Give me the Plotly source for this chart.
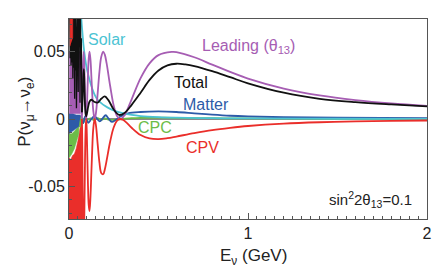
import plotly.graph_objects as go

# ---------------- data ----------------
# Leading (theta13) term
lead_E = [0.0637, 0.066, 0.068, 0.070, 0.0716, 0.0735, 0.075, 0.078, 0.0819, 0.085, 0.088, 0.092, 0.0955, 0.098,
          0.1, 0.105, 0.11, 0.1146, 0.12, 0.125, 0.13, 0.135, 0.143, 0.15, 0.16, 0.17, 0.18, 0.191, 0.2, 0.21,
          0.23, 0.25, 0.27, 0.286, 0.3, 0.32, 0.35, 0.4, 0.45, 0.5, 0.573, 0.6, 0.7, 0.8, 0.9, 1.0, 1.2, 1.4,
          1.6, 1.8, 2.0]
lead_P = [0.05, 0.0385, 0.019, 0.0041, 0.0, 0.005, 0.0144, 0.039, 0.05, 0.0421, 0.0264, 0.0065, 0.0, 0.0028,
          0.0085, 0.0289, 0.0447, 0.05, 0.044, 0.0315, 0.0181, 0.007, 0.0, 0.0039, 0.0188, 0.035, 0.046, 0.05,
          0.0478, 0.0414, 0.0245, 0.0098, 0.0018, 0.0, 0.001, 0.0052, 0.0146, 0.0303, 0.0413, 0.0474, 0.0498,
          0.0497, 0.0458, 0.0403, 0.035, 0.030, 0.0226, 0.0175, 0.0140, 0.0115, 0.0097]

# CP-violating term
cpv_E = [0.0716, 0.073, 0.075, 0.078, 0.0819, 0.085, 0.088, 0.092, 0.0955, 0.098, 0.1, 0.105, 0.11, 0.1146,
         0.12, 0.125, 0.13, 0.135, 0.143, 0.15, 0.16, 0.17, 0.18, 0.191, 0.2, 0.21, 0.23, 0.25, 0.27, 0.286,
         0.3, 0.32, 0.35, 0.4, 0.45, 0.5, 0.55, 0.6, 0.7, 0.8, 0.9, 1.0, 1.2, 1.4, 1.6, 1.8, 2.0]
cpv_P = [0.0, -0.0064, -0.030, -0.0784, -0.0957, -0.0777, -0.047, -0.011, 0.0, -0.0046, -0.0133, -0.0431,
         -0.0636, -0.0683, -0.0574, -0.0395, -0.0218, -0.0081, 0.0, -0.0041, -0.0184, -0.0322, -0.040, -0.041,
         -0.0374, -0.0309, -0.0167, -0.0061, -0.001, 0.0, -0.0005, -0.0025, -0.0065, -0.0119, -0.0144, -0.0149,
         -0.0142, -0.013, -0.0105, -0.0083, -0.0066, -0.0052, -0.0034, -0.0024, -0.0018, -0.0014, -0.0011]

# Total probability
tot_E = [0.072, 0.076, 0.08, 0.083, 0.086, 0.09, 0.095, 0.1, 0.107, 0.115, 0.125, 0.14, 0.16, 0.18, 0.2, 0.22,
         0.25, 0.28, 0.31, 0.35, 0.4, 0.45, 0.5, 0.55, 0.6, 0.65, 0.7, 0.8, 0.9, 1.0, 1.2, 1.4, 1.6, 1.8, 2.0]
tot_P = [0.005, 0.016, 0.032, 0.037, 0.026, 0.009, 0.002, 0.004, 0.009, 0.013, 0.0143, 0.0128, 0.0122, 0.015,
         0.0168, 0.014, 0.007, 0.003, 0.0045, 0.0105, 0.0195, 0.029, 0.036, 0.0398, 0.041, 0.0405, 0.0393,
         0.0355, 0.031, 0.0265, 0.0195, 0.015, 0.0125, 0.0108, 0.0094]

# Total, fast-oscillating low-energy part
totlow_E = [0.004, 0.0065, 0.009, 0.0115, 0.014, 0.0165, 0.019, 0.0215, 0.024, 0.0265, 0.029, 0.0315, 0.034,
            0.0365, 0.039, 0.0415, 0.044, 0.0465, 0.049, 0.0515, 0.054, 0.0565, 0.059, 0.0615, 0.064, 0.0665,
            0.069, 0.072]
totlow_P = [0.09, 0.045, 0.09, 0.04, 0.09, 0.042, 0.09, 0.03, 0.09, 0.038, 0.09, 0.015, 0.09, 0.036, 0.09,
            0.008, 0.09, 0.04, 0.09, 0.02, 0.09, 0.045, 0.085, 0.012, 0.075, 0.04, 0.06, 0.005]

# Solar term
sol_E = [0.066, 0.069, 0.075, 0.08, 0.09, 0.1, 0.115, 0.13, 0.145, 0.16, 0.18, 0.2, 0.23, 0.26, 0.3, 0.35, 0.4,
         0.5, 0.6, 0.8, 1.0, 1.5, 2.0]
sol_P = [0.085, 0.074, 0.064, 0.056, 0.045, 0.037, 0.029, 0.0225, 0.0175, 0.0142, 0.0118, 0.0098, 0.0075,
         0.0058, 0.0043, 0.003, 0.0022, 0.0014, 0.001, 0.0006, 0.0004, 0.0002, 0.0001]

# Matter term
mat_E = [0.07, 0.08, 0.09, 0.1, 0.108, 0.125, 0.142, 0.158, 0.172, 0.188, 0.205, 0.22, 0.24, 0.26, 0.29, 0.33,
         0.4, 0.5, 0.6, 0.7, 0.8, 0.9, 1.0, 1.2, 1.5, 2.0]
mat_P = [0.0, -0.003, 0.002, -0.001, -0.0028, 0.0, 0.0022, 0.0, -0.0018, 0.0005, 0.0028, 0.0005, -0.0022,
         -0.0008, 0.002, 0.0042, 0.0052, 0.0056, 0.0052, 0.0042, 0.0032, 0.0024, 0.0019, 0.0013, 0.001, 0.0007]

# CP-conserving term
cpc_E = [0.06, 0.07, 0.08, 0.09, 0.1, 0.12, 0.14, 0.16, 0.18, 0.2, 0.22, 0.25, 0.3, 0.35, 0.4, 0.5, 0.6, 0.8,
         1.0, 1.5, 2.0]
cpc_P = [-0.006, 0.002, -0.003, 0.001, -0.001, 0.0005, -0.0008, 0.0006, -0.0006, 0.0004, -0.0004, -0.0006, 0.0,
         0.0006, 0.0009, 0.001, 0.0009, 0.0006, 0.0004, 0.0002, 0.0001]

# Envelopes of the unresolved fast oscillations at the lowest energies
red_fill_E = [0.0, 0.0, 0.01, 0.02, 0.03, 0.04, 0.05, 0.058, 0.064, 0.069, 0.0716, 0.074, 0.074]
red_fill_P = [-0.08, -0.029, -0.03, -0.027, -0.026, -0.022, -0.016, -0.008, -0.004, -0.001, 0.0, -0.03, -0.08]
red_top_E = [0.006, 0.006, 0.021, 0.021]
red_top_P = [0.054, 0.08, 0.08, 0.06]
green_fill_E = [0.0, 0.015, 0.03, 0.045, 0.055, 0.055, 0.045, 0.03, 0.015, 0.0]
green_fill_P = [-0.011, -0.011, -0.009, -0.007, -0.005, -0.011, -0.016, -0.022, -0.026, -0.029]
blue_fill_E = [0.0, 0.02, 0.04, 0.06, 0.07, 0.07, 0.06, 0.04, 0.02, 0.0]
blue_fill_P = [0.004, 0.004, 0.003, 0.003, 0.002, -0.003, -0.005, -0.007, -0.009, -0.011]
purple_fill_E = [0.002, 0.002, 0.02, 0.04, 0.055, 0.063, 0.063, 0.05, 0.03, 0.002]
purple_fill_P = [0.004, 0.05, 0.05, 0.05, 0.05, 0.05, 0.004, 0.004, 0.004, 0.004]

x_ticks = [0, 1, 2]
x_ticklabels = ["0", "1", "2"]
y_ticks = [-0.05, 0, 0.05]
y_ticklabels = ["-0.05", "0", "0.05"]

# ---------------- styling ----------------
C_PURPLE = "#a65db3"
C_BLACK = "#111111"
C_CYAN = "#4cc3d3"
C_BLUE = "#2d5ba8"
C_GREEN = "#6cbd48"
C_RED = "#ea2e2a"
LW = 1.8
FONT = "Liberation Sans, Arial, Helvetica, sans-serif"

fig = go.Figure()

def fill(xs, ys, color):
    fig.add_trace(go.Scatter(x=xs, y=ys, mode="lines", fill="toself", fillcolor=color,
                             line=dict(color=color, width=0.5), hoverinfo="skip", showlegend=False))

def line(xs, ys, color, shape="spline", width=LW):
    fig.add_trace(go.Scatter(x=xs, y=ys, mode="lines", line=dict(color=color, width=width, shape=shape),
                             hoverinfo="skip", showlegend=False))

fill(red_fill_E, red_fill_P, C_RED)
fill(green_fill_E, green_fill_P, C_GREEN)
fill(blue_fill_E, blue_fill_P, C_BLUE)
fill(purple_fill_E, purple_fill_P, C_PURPLE)

line(cpc_E, cpc_P, C_GREEN)
line(mat_E, mat_P, C_BLUE)
line(sol_E, sol_P, C_CYAN)
line(lead_E, lead_P, C_PURPLE)
line(cpv_E, cpv_P, C_RED)
line(totlow_E, totlow_P, C_BLACK, shape="linear", width=1.3)
fill(red_top_E, red_top_P, C_RED)
line(tot_E, tot_P, C_BLACK)

labels = [
    ("Solar", 0.214, 0.0589, C_CYAN, 16),
    ("Leading (θ<sub>13</sub>)", 1.0, 0.0535, C_PURPLE, 16),
    ("Total", 0.679, 0.027, C_BLACK, 16),
    ("Matter", 0.763, 0.0106, C_BLUE, 16),
    ("CPC", 0.48, -0.0066, C_GREEN, 16),
    ("CPV", 0.746, -0.0214, C_RED, 16),
]
for txt, x, y, col, sz in labels:
    fig.add_annotation(x=x, y=y, xref="x", yref="y", text=txt, showarrow=False,
                       font=dict(color=col, size=sz, family=FONT), xanchor="center", yanchor="middle")

fig.add_annotation(x=1.925, y=-0.0597, xref="x", yref="y", text="sin<sup>2</sup>2θ<sub>13</sub>=0.1",
                   showarrow=False, font=dict(color="#222222", size=15, family=FONT),
                   xanchor="right", yanchor="middle")

# axis titles
fig.add_annotation(x=0.514, y=-0.19, xref="paper", yref="paper", text="E<sub>ν</sub> (GeV)",
                   showarrow=False, xanchor="center", yanchor="middle",
                   font=dict(size=17, color="#222222", family=FONT))
fig.add_annotation(x=-0.12, y=0.536, xref="paper", yref="paper", text="P(ν<sub>μ</sub>→ν<sub>e</sub>)",
                   showarrow=False, xanchor="center", yanchor="middle", textangle=-90,
                   font=dict(size=17, color="#222222", family=FONT))

axis_common = dict(showline=True, linecolor="#555555", linewidth=1, mirror=True, ticks="inside",
                   tickcolor="#555555", showgrid=False, automargin=False,
                   tickfont=dict(size=16, color="#222222", family=FONT))

fig.update_xaxes(range=[0, 2], tickvals=x_ticks, ticktext=x_ticklabels, ticklen=6, zeroline=False,
                 minor=dict(dtick=0.05, ticks="inside", ticklen=3, tickcolor="#555555"),
                 **axis_common)
fig.update_yaxes(range=[-0.0742, 0.0742], tickvals=y_ticks, ticktext=y_ticklabels, ticklen=6,
                 zeroline=True, zerolinecolor="#8a8a8a", zerolinewidth=1.5,
                 minor=dict(dtick=0.01, ticks="inside", ticklen=3, tickcolor="#555555"),
                 **axis_common)

fig.update_layout(width=436, height=279, margin=dict(l=69, r=9, t=19, b=60, autoexpand=False),
                  paper_bgcolor="white", plot_bgcolor="white", showlegend=False,
                  font=dict(family=FONT))

fig.write_html("out.html", config={"displayModeBar": False},
               post_script="document.body.style.margin='0';document.body.style.overflow='hidden';")
